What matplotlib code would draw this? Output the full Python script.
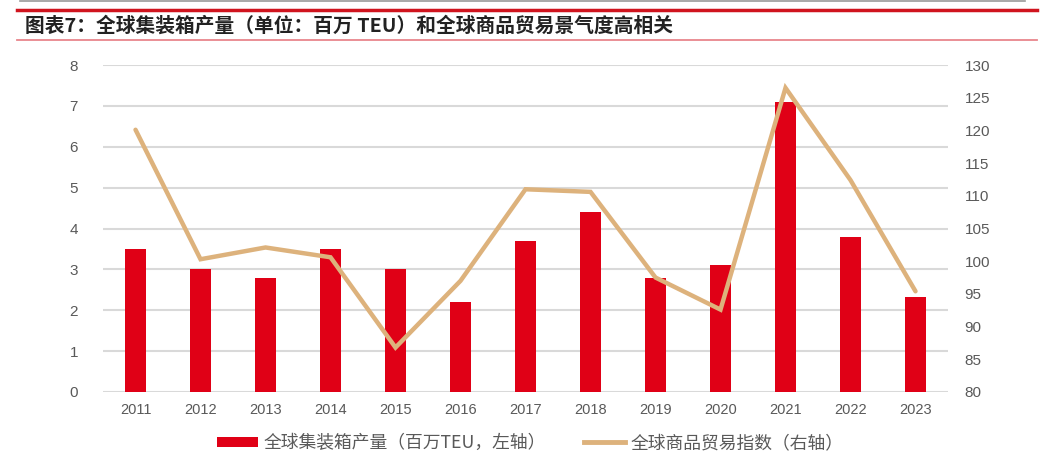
import matplotlib
matplotlib.use('Agg')
import matplotlib.pyplot as plt
from matplotlib.lines import Line2D
from matplotlib.patches import Patch
import numpy as np

plt.rcParams['font.family'] = ['Liberation Sans', 'Noto Sans CJK SC']

years = ['2011', '2012', '2013', '2014', '2015', '2016', '2017',
         '2018', '2019', '2020', '2021', '2022', '2023']
production = [3.5, 3.0, 2.8, 3.5, 3.0, 2.2, 3.7, 4.4, 2.8, 3.1, 7.1, 3.8, 2.33]
trade_index = [120.1, 100.3, 102.1, 100.6, 86.8, 97.0, 111.0,
               110.6, 97.5, 92.6, 126.5, 112.4, 95.4]

title = '图表7：全球集装箱产量（单位：百万 TEU）和全球商品贸易景气度高相关'
label_bar = '全球集装箱产量（百万TEU，左轴）'
label_line = '全球商品贸易指数（右轴）'

bar_color = '#E00016'
line_color = '#DDB27C'
grid_color = '#D9D9D9'
text_color = '#595959'

fig = plt.figure(figsize=(10.61, 4.67), dpi=100)
ax = fig.add_axes([0.0971, 0.1606, 0.7964, 0.7002])
x = np.arange(len(years))

ax.set_axisbelow(True)
ax.bar(x, production, width=0.31, color=bar_color, zorder=2)
ax.set_ylim(0, 8)
ax.set_yticks(range(0, 9))
ax.set_xlim(-0.5, len(years) - 0.5)
ax.set_xticks(x)
ax.set_xticklabels(years)
ax.grid(axis='y', color=grid_color, linewidth=1.5)
for s in ax.spines.values():
    s.set_visible(False)
ax.tick_params(axis='y', length=0, pad=18, labelsize=11, labelcolor=text_color)
ax.tick_params(axis='x', length=0, pad=8, labelsize=10.5, labelcolor=text_color)

ax2 = ax.twinx()
ax2.plot(x, trade_index, color=line_color, linewidth=3.2, zorder=3,
         solid_capstyle='round', solid_joinstyle='miter')
ax2.set_ylim(80, 130)
ax2.set_yticks(range(80, 131, 5))
for s in ax2.spines.values():
    s.set_visible(False)
ax2.tick_params(axis='y', length=0, pad=12, labelsize=11, labelcolor=text_color)

# header decorations
fig.add_artist(Line2D([0.019, 0.966], [1 - 1 / 467, 1 - 1 / 467],
                      color='#9a9a9a', linewidth=1.2, transform=fig.transFigure))
fig.add_artist(Line2D([0.016, 0.977], [1 - 10 / 467, 1 - 10 / 467],
                      color='#D0141E', linewidth=2.5, transform=fig.transFigure))
fig.add_artist(Line2D([0.016, 0.977], [1 - 40 / 467, 1 - 40 / 467],
                      color='#E8868C', linewidth=1.3, transform=fig.transFigure))
fig.text(0.024, 1 - 26 / 467, title, fontsize=14.2, fontweight='bold',
         family=['Noto Sans CJK SC'], color='#222222', va='center', ha='left')

handles = [Patch(facecolor=bar_color, edgecolor='none'),
           Line2D([0], [0], color=line_color, linewidth=3.5)]
fig.legend(handles, [label_bar, label_line], loc='center',
           bbox_to_anchor=(0.5, 1 - 443 / 467), ncol=2, frameon=False,
           prop={'family': ['Noto Sans CJK SC'], 'size': 12.8, 'weight': 'light'},
           labelcolor=text_color, handlelength=2.3, handleheight=0.5,
           handletextpad=0.3, columnspacing=2.15)

fig.savefig('out.png', dpi=100)
